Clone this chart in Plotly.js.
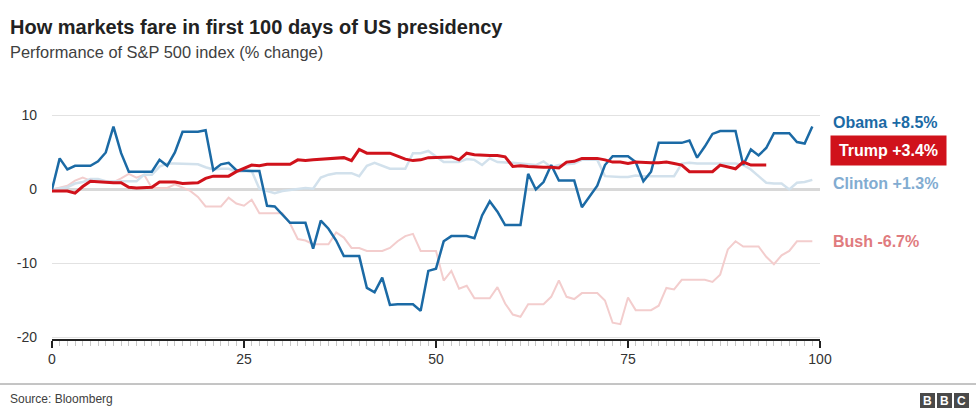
<!DOCTYPE html>
<html>
<head>
<meta charset="utf-8">
<script src="https://cdn.plot.ly/plotly-3.0.1.min.js"></script>
<style>
  html, body { margin: 0; padding: 0; background: #fff; }
  #chart { width: 976px; height: 417px; }
</style>
</head>
<body>
<div id="chart"></div>
<script>
// ---- Data (percent change of S&P 500 by day of presidency) ----
const obama = [0, 4.2, 2.7, 3.2, 3.2, 3.2, 3.8, 5.0, 8.5, 4.9,
  2.4, 2.4, 2.4, 2.4, 4.0, 3.2, 5.0, 7.8, 7.8, 7.8,
  8.0, 2.6, 3.4, 3.6, 2.6, 2.5, 2.5, 2.5, -2.2, -2.3,
  -3.4, -4.5, -4.5, -4.5, -8.0, -4.2, -5.3, -6.9, -9.0, -9.0,
  -9.0, -13.3, -13.9, -11.9, -15.6, -15.5, -15.5, -15.5, -16.4, -11.0,
  -10.7, -7.0, -6.3, -6.3, -6.3, -6.6, -3.5, -1.6, -3.0, -4.8,
  -4.8, -4.8, 2.1, 0.0, 1.0, 3.3, 1.2, 1.2, 1.2, -2.4,
  -1.0, 0.5, 3.3, 4.5, 4.5, 4.5, 3.7, 1.1, 2.4, 6.3,
  6.3, 6.3, 6.3, 6.6, 4.3, 5.8, 7.5, 7.9, 7.9, 7.9,
  3.3, 5.4, 4.6, 5.6, 7.6, 7.6, 7.6, 6.4, 6.2, 8.5];

const trump = [-0.2, -0.2, -0.2, -0.5, 0.4, 1.1, 1.0, 0.9, 0.9, 0.9,
  0.3, 0.2, 0.2, 0.3, 1.0, 1.0, 1.0, 0.8, 0.8, 0.9,
  1.5, 1.8, 1.8, 1.8, 2.4, 2.9, 3.3, 3.2, 3.4, 3.4,
  3.4, 3.4, 4.0, 3.9, 4.0, 4.1, 4.2, 4.2, 4.3, 3.9,
  5.4, 4.9, 4.9, 4.9, 4.9, 4.5, 4.1, 3.9, 4.0, 4.3,
  4.3, 4.3, 4.4, 4.0, 4.9, 4.7, 4.6, 4.6, 4.6, 4.4,
  3.1, 3.2, 3.1, 3.0, 3.0, 3.0, 2.9, 3.7, 3.8, 4.2,
  4.2, 4.2, 4.0, 3.7, 3.7, 3.5, 3.7, 3.6, 3.6, 3.6,
  3.7, 3.5, 3.3, 2.4, 2.4, 2.4, 2.4, 3.3, 3.0, 2.8,
  3.7, 3.3, 3.3, 3.3];

const clinton = [0, 0.2, 0.3, 0.8, 1.0, 1.4, 1.4, 1.1, 1.1, 1.1,
  1.1, 1.1, 2.0, 2.0, 3.1, 3.5, 3.5, 3.5, 3.5, 3.4,
  3.0, 2.7, 2.8, 2.8, 2.4, 2.5, 2.5, 0.1, -0.2, -0.5,
  -0.2, -0.1, 0.0, 0.2, 0.1, 1.6, 2.0, 2.2, 2.2, 2.2,
  1.8, 3.2, 3.6, 3.2, 2.8, 2.8, 2.8, 4.9, 4.9, 5.2,
  4.5, 3.7, 3.7, 3.7, 4.1, 4.0, 3.3, 4.2, 3.7, 3.7,
  3.6, 3.5, 3.4, 3.3, 3.8, 3.0, 3.3, 3.4, 3.5, 4.0,
  4.0, 4.0, 1.8, 1.7, 1.7, 1.7, 1.9, 1.8, 1.8, 1.8,
  1.8, 1.8, 3.5, 3.6, 3.5, 3.5, 3.5, 3.6, 3.6, 3.5,
  3.3, 2.7, 1.8, 0.9, 0.8, 0.8, 0.0, 0.9, 1.0, 1.3];

const bush = [0, 0.2, 0.5, 1.2, 1.6, 1.2, 1.0, 1.0, 1.0, 1.5,
  2.1, 1.6, 2.0, 0.2, 0.2, 0.2, 0.7, 0.3, -0.2, -1.0,
  -2.3, -2.3, -2.3, -1.1, -1.9, -2.2, -1.4, -3.2, -3.2, -3.2,
  -3.2, -4.6, -6.7, -6.9, -7.4, -7.4, -7.4, -5.8, -6.5, -7.9,
  -7.9, -8.3, -8.3, -8.3, -7.9, -7.0, -6.3, -6.0, -8.3, -8.3,
  -8.3, -12.3, -11.0, -13.4, -13.0, -14.7, -14.7, -14.7, -13.2, -15.4,
  -16.9, -17.2, -15.5, -15.5, -15.5, -14.5, -12.3, -14.5, -14.8, -14.0,
  -14.0, -14.0, -15.0, -18.0, -18.2, -14.6, -16.3, -16.3, -16.3, -15.7,
  -13.3, -13.5, -12.2, -12.2, -12.2, -12.2, -12.5, -11.5, -8.1, -7.0,
  -7.7, -7.7, -7.7, -9.1, -10.1, -8.9, -8.3, -7.0, -7.0, -7.0];

const seriesLabels = ["Obama +8.5%", "Trump +3.4%", "Clinton +1.3%", "Bush -6.7%"];
const labelY = [9.1, 5.2, 0.8, -7.0];
const xTickVals = [0, 25, 50, 75, 100];
const yTickVals = [10, 0, -10, -20];
const yTickText = ["10", "0", "-10", "-20"];

const days = n => Array.from({length: n}, (_, i) => i);

// ---- Layout geometry helpers (pixel -> paper) ----
const W = 976, H = 417;
const M = {l: 52, r: 156, t: 111, b: 78};
const PW = W - M.l - M.r, PH = H - M.t - M.b;
const px = x => (x - M.l) / PW;
const py = y => (H - M.b - y) / PH;

const FONT = "Liberation Sans, Arial, Helvetica, sans-serif";

const colors = {
  obama: "#1b6aa5", trump: "#d0121b", clinton: "#d2e1ec", bush: "#f3cdcd",
  obamaText: "#1b6aa5", clintonText: "#82acd1", bushText: "#e07b7e"
};

const traces = [
  {x: days(bush.length), y: bush, mode: "lines", line: {color: colors.bush, width: 2}},
  {x: days(clinton.length), y: clinton, mode: "lines", line: {color: colors.clinton, width: 2.5}},
  {x: days(obama.length), y: obama, mode: "lines", line: {color: colors.obama, width: 2.5}},
  {x: days(trump.length), y: trump, mode: "lines", line: {color: colors.trump, width: 3}}
];

const annotations = [
  {xref: "paper", yref: "paper", x: px(8), y: py(14), xanchor: "left", yanchor: "top",
   text: "<b>How markets fare in first 100 days of US presidency</b>", showarrow: false,
   font: {family: FONT, size: 20, color: "#222"}},
  {xref: "paper", yref: "paper", x: px(8), y: py(41), xanchor: "left", yanchor: "top",
   text: "Performance of S&P 500 index (% change)", showarrow: false,
   font: {family: FONT, size: 16.4, color: "#404040"}},
  {xref: "paper", yref: "y", x: 1, y: labelY[0], xanchor: "left", yanchor: "middle", xshift: 11,
   text: "<b>" + seriesLabels[0] + "</b>", showarrow: false,
   font: {family: FONT, size: 16, color: colors.obamaText}},
  {xref: "paper", yref: "y", x: 1, y: labelY[1], xanchor: "left", yanchor: "middle", xshift: 10,
   text: "<b>" + seriesLabels[1] + "</b>", showarrow: false, bgcolor: colors.trump,
   width: 103, height: 17, borderpad: 6, align: "center",
   font: {family: FONT, size: 16, color: "#fff"}},
  {xref: "paper", yref: "y", x: 1, y: labelY[2], xanchor: "left", yanchor: "middle", xshift: 11,
   text: "<b>" + seriesLabels[2] + "</b>", showarrow: false,
   font: {family: FONT, size: 16, color: colors.clintonText}},
  {xref: "paper", yref: "y", x: 1, y: labelY[3], xanchor: "left", yanchor: "middle", xshift: 11,
   text: "<b>" + seriesLabels[3] + "</b>", showarrow: false,
   font: {family: FONT, size: 16, color: colors.bushText}},
  {xref: "paper", yref: "paper", x: px(8), y: py(399), xanchor: "left", yanchor: "middle",
   text: "Source: Bloomberg", showarrow: false,
   font: {family: "Liberation Sans Narrow, " + FONT, size: 12, color: "#404040"}}
];

// BBC logo
const bbcBoxes = [920, 937, 954];
const shapes = [
  {type: "line", xref: "paper", yref: "paper", x0: px(0), x1: px(976), y0: py(384), y1: py(384),
   line: {color: "#8a8a8a", width: 1}}
];
bbcBoxes.forEach((bx, i) => {
  shapes.push({type: "rect", xref: "paper", yref: "paper", x0: px(bx), x1: px(bx + 15),
    y0: py(408), y1: py(393), fillcolor: "#4a4a4a", line: {width: 0}});
  annotations.push({xref: "paper", yref: "paper", x: px(bx + 7.5), y: py(400.5),
    xanchor: "center", yanchor: "middle", text: "<b>" + "BBC"[i] + "</b>", showarrow: false,
    font: {family: FONT, size: 12, color: "#fff"}});
});

const layout = {
  width: W, height: H,
  margin: M,
  paper_bgcolor: "#fff", plot_bgcolor: "#fff",
  showlegend: false, hovermode: false,
  xaxis: {
    range: [0, 100], tickvals: xTickVals, ticktext: xTickVals.map(String),
    ticks: "outside", ticklen: 7, tickwidth: 1.5, tickcolor: "#222",
    showline: true, linecolor: "#222", linewidth: 1.5,
    showgrid: false, zeroline: false,
    minor: {dtick: 1, tick0: 0, ticks: "outside", ticklen: 5, tickcolor: "#c8c8c8", tickwidth: 1, showgrid: false},
    tickfont: {family: FONT, size: 14, color: "#333"}
  },
  yaxis: {
    range: [-20.2, 10.6], tickvals: yTickVals, ticktext: yTickText,
    showgrid: true, gridcolor: "#e2e2e2", gridwidth: 1,
    zeroline: true, zerolinecolor: "#d8d8d8", zerolinewidth: 3,
    showline: false, ticks: "", ticklabelstandoff: 14,
    tickfont: {family: FONT, size: 14, color: "#333"}
  },
  annotations: annotations,
  shapes: shapes
};

Plotly.newPlot("chart", traces, layout, {displayModeBar: false, staticPlot: true});
</script>
</body>
</html>
